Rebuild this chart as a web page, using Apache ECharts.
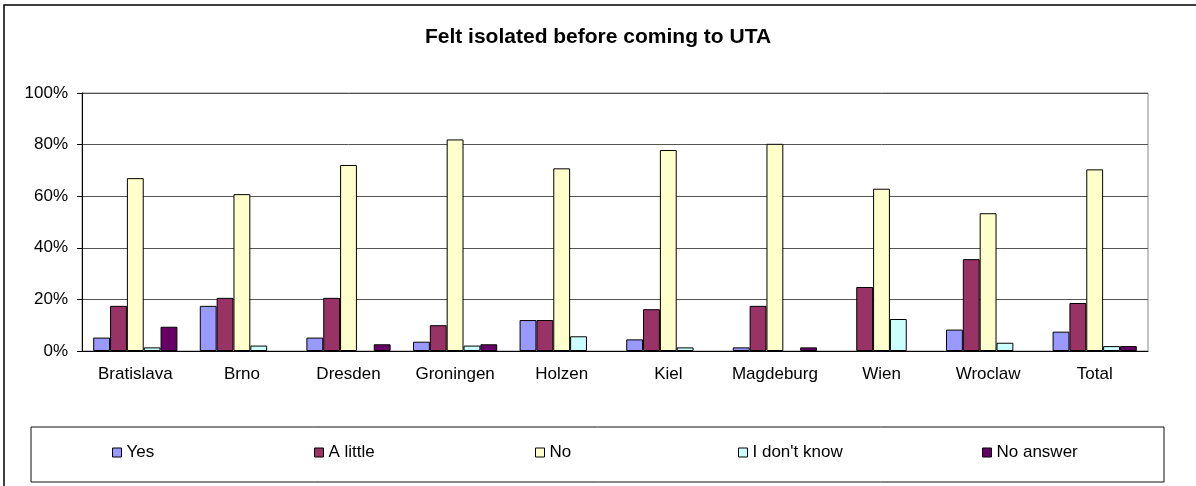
<!DOCTYPE html>
<html>
<head>
<meta charset="utf-8">
<script src="https://cdn.jsdelivr.net/npm/echarts@6/dist/echarts.min.js"></script>
<style>
  html, body { margin: 0; padding: 0; background: #fff; }
  #chart { width: 1196px; height: 486px; }
</style>
</head>
<body>
<div id="chart"></div>
<script>
var categories = ['Bratislava', 'Brno', 'Dresden', 'Groningen', 'Holzen', 'Kiel', 'Magdeburg', 'Wien', 'Wroclaw', 'Total'];
var seriesNames = ['Yes', 'A little', 'No', "I don't know", 'No answer'];
var yes = [5.2, 17.5, 5.2, 3.6, 12.0, 4.5, 1.4, 0, 8.3, 7.5];
var aLittle = [17.5, 20.6, 20.6, 10.0, 12.0, 16.2, 17.5, 24.8, 35.6, 18.6];
var no = [67.0, 60.8, 72.1, 82.0, 70.8, 77.9, 80.3, 62.9, 53.4, 70.4];
var dontKnow = [1.4, 2.1, 0, 2.1, 5.7, 1.4, 0, 12.4, 3.2, 1.9];
var noAnswer = [9.4, 0, 2.6, 2.6, 0, 0, 1.4, 0, 0, 1.9];
var yTicks = [0, 20, 40, 60, 80, 100];

var colors = ['#9999ff', '#993366', '#ffffcc', '#ccffff', '#660066'];
var values = [yes, aLittle, no, dontKnow, noAnswer];
var legendX = [112, 314, 535, 738, 982];
var font = 'Liberation Sans';

var chart = echarts.init(document.getElementById('chart'), null, {renderer: 'canvas'});

var series = [];
var legends = [];
for (var i = 0; i < seriesNames.length; i++) {
    series.push({
        name: seriesNames[i],
        type: 'bar',
        // zero means no bar at all in the original
        data: values[i].map(function (v) { return v === 0 ? '-' : v; }),
        barGap: 0,
        barCategoryGap: '21%',
        itemStyle: {color: colors[i], borderColor: '#000', borderWidth: 1}
    });
    // one legend per item so each sits where Excel put it
    legends.push({
        data: [seriesNames[i]],
        left: legendX[i],
        top: 444,
        padding: 0,
        icon: 'rect',
        itemWidth: 9,
        itemHeight: 9,
        itemStyle: {borderColor: '#000', borderWidth: 1},
        textStyle: {fontFamily: font, fontSize: 17, color: '#000'}
    });
}

chart.setOption({
    animation: false,
    backgroundColor: '#fff',
    color: colors,
    title: {
        text: 'Felt isolated before coming to UTA',
        left: 'center',
        top: 22,
        textStyle: {fontFamily: font, fontSize: 21, fontWeight: 'bold', color: '#000'}
    },
    graphic: [
        {type: 'rect', shape: {x: 4, y: 5, width: 1400, height: 700}, style: {fill: 'none', stroke: '#000', lineWidth: 1.5}, silent: true},
        {type: 'rect', shape: {x: 31, y: 427, width: 1133, height: 55}, style: {fill: 'none', stroke: '#111', lineWidth: 1}, silent: true}
    ],
    legend: legends,
    grid: {left: 82, top: 93, right: 48, bottom: 135, show: true, borderColor: '#888', borderWidth: 1},
    xAxis: {
        type: 'category',
        data: categories,
        axisLine: {lineStyle: {color: '#000'}},
        axisTick: {length: 4, lineStyle: {color: '#000'}},
        axisLabel: {interval: 0, fontFamily: font, fontSize: 17, color: '#000', margin: 15}
    },
    yAxis: {
        type: 'value',
        min: yTicks[0],
        max: yTicks[yTicks.length - 1],
        interval: 20,
        axisLine: {show: true, lineStyle: {color: '#000'}},
        axisTick: {show: true, length: 5, lineStyle: {color: '#000'}},
        splitLine: {lineStyle: {color: '#555'}},
        axisLabel: {fontFamily: font, fontSize: 17, color: '#000', margin: 14, formatter: '{value}%'}
    },
    series: series
});
</script>
</body>
</html>
